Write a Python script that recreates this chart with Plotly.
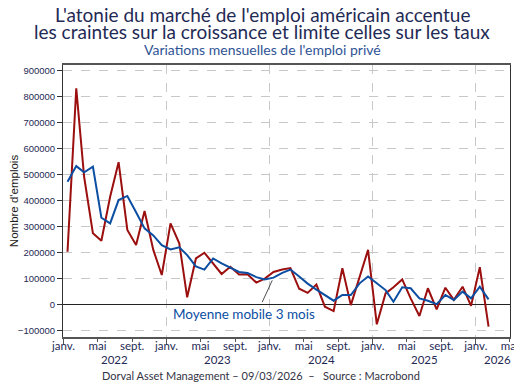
import pandas as pd
import plotly.graph_objects as go

# Monthly private payroll changes, Jan 2022 - Feb 2026
months = pd.date_range("2022-01-01", periods=50, freq="MS") + pd.Timedelta(days=14)
emploi_prive = [203000, 833000, 491000, 274000, 245000, 415000, 548000, 287000, 229000, 360000,
                210000, 113000, 312000, 235000, 27000, 177000, 199000, 158000, 117000, 145000,
                115000, 116000, 84000, 99000, 125000, 134000, 140000, 60000, 44000, 76000,
                -9000, -26000, 139000, -3000, 107000, 210000, -77000, 42000, 66000, 96000,
                23000, -45000, 62000, -19000, 64000, 17000, 68000, -6000, 143000, -86000]
moyenne_3m = [473000, 533000, 509000, 531000, 334000, 312000, 402000, 418000, 355000, 293000,
              266000, 228000, 212000, 220000, 190000, 146000, 134000, 177000, 158000, 142000,
              125000, 121000, 105000, 96000, 103000, 121000, 134000, 107000, 80000, 57000,
              36000, 14000, 36000, 36000, 81000, 107000, 81000, 55000, 10000, 66000,
              62000, 23000, 14000, 1000, 36000, 17000, 49000, 23000, 68000, 19000]

tick_dates = pd.date_range("2022-01-01", "2026-05-01", freq="4MS")
month_names = {1: "janv.", 5: "mai", 9: "sept."}
tick_text = [month_names[d.month] for d in tick_dates]
years = ["2022", "2023", "2024", "2025", "2026"]
year_centers = ["2022-07-02", "2023-07-02", "2024-07-02", "2025-07-02", "2026-03-18"]
jan_dates = pd.date_range("2022-01-01", "2026-01-01", freq="YS")

NAVY = "#1f2a55"
RED = "#9b0f0f"
BLUE = "#0b4ea2"
PLOT_H = 272

fig = go.Figure()
fig.add_trace(go.Scatter(x=months, y=emploi_prive, mode="lines",
                         line=dict(color=RED, width=2), name="Emploi privé"))
fig.add_trace(go.Scatter(x=months, y=moyenne_3m, mode="lines",
                         line=dict(color=BLUE, width=2), name="Moyenne mobile 3 mois"))

# page body has an 8px margin: figure is sized/offset to compensate
fig.update_layout(
    width=514, height=382,
    margin=dict(l=55, r=12, t=57, b=53),
    paper_bgcolor="white", plot_bgcolor="white",
    showlegend=False,
)

fig.update_xaxes(
    automargin=False,
    range=["2021-12-30", "2026-05-02"],
    tickmode="array", tickvals=tick_dates, ticktext=tick_text,
    ticks="outside", ticklen=3, tickcolor="#555555",
    ticklabelstandoff=-6,
    tickfont=dict(family="Lato", size=11.5, color=NAVY),
    showgrid=False, showline=True, linecolor="#555555", linewidth=1.5, mirror=True,
    minor=dict(tickmode="array", tickvals=jan_dates, ticks="outside", ticklen=6,
               tickcolor="#555555", showgrid=True, gridcolor="#c8c8c8", griddash="dash", gridwidth=1),
    zeroline=False,
)
fig.update_yaxes(
    automargin=False,
    range=[-126000, 923000],
    tickmode="linear", tick0=0, dtick=100000, tickformat="d",
    ticks="outside", ticklen=5, tickcolor="#333333",
    tickfont=dict(family="Liberation Sans", size=9.5, color=NAVY),
    showgrid=True, gridcolor="#c8c8c8", griddash="dash", gridwidth=1,
    zeroline=True, zerolinecolor="#222222", zerolinewidth=1,
    showline=True, linecolor="#333333", linewidth=1, mirror=True,
    title=dict(text="Nombre d'emplois", standoff=0,
               font=dict(family="Liberation Sans", size=11.5, color="#222222")),
)

# title (two lines)
fig.add_annotation(text="L'atonie du marché de l'emploi américain accentue", xref="paper", yref="paper",
                   x=0.5, y=1 + (65 - 14) / PLOT_H, showarrow=False, yanchor="middle", xshift=-24.5,
                   borderpad=0, font=dict(family="Lato", size=19, color=NAVY))
fig.add_annotation(text="les craintes sur la croissance et limite celles sur les taux", xref="paper", yref="paper",
                   x=0.5, y=1 + (65 - 31) / PLOT_H, showarrow=False, yanchor="middle", xshift=-24.5,
                   borderpad=0, font=dict(family="Lato", size=19, color=NAVY))
# subtitle
fig.add_annotation(text="Variations mensuelles de l'emploi privé", xref="paper", yref="paper",
                   x=0.5, y=1 + (65 - 50) / PLOT_H, showarrow=False, yanchor="middle",
                   xshift=-24.5, borderpad=0,
                   font=dict(family="Lato", size=14, color="#2f5496"))
# year labels
for yr, xc in zip(years, year_centers):
    fig.add_annotation(text=yr, xref="x", yref="paper", x=xc, y=-22 / PLOT_H,
                       showarrow=False, yanchor="middle",
                       font=dict(family="Lato", size=11.5, color=NAVY))
# footer
fig.add_annotation(text="Dorval Asset Management – 09/03/2026  –   Source : Macrobond",
                   xref="paper", yref="paper", x=0.5, y=-38 / PLOT_H, showarrow=False,
                   yanchor="middle", xshift=-25.5,
                   font=dict(family="Lato", size=11, color="#333344"))
# moving-average label with pointer line
fig.add_annotation(text="", x=months[24], y=moyenne_3m[24], xref="x", yref="y",
                   ax=-12, ay=26, showarrow=True, arrowhead=0, arrowwidth=0.8,
                   arrowcolor="#222222", standoff=3)
fig.add_annotation(text="Moyenne mobile 3 mois", x="2023-10-01", y=-36000, xref="x", yref="y",
                   showarrow=False, font=dict(family="Lato", size=13.5, color=BLUE))

fig.write_html("out.html")
